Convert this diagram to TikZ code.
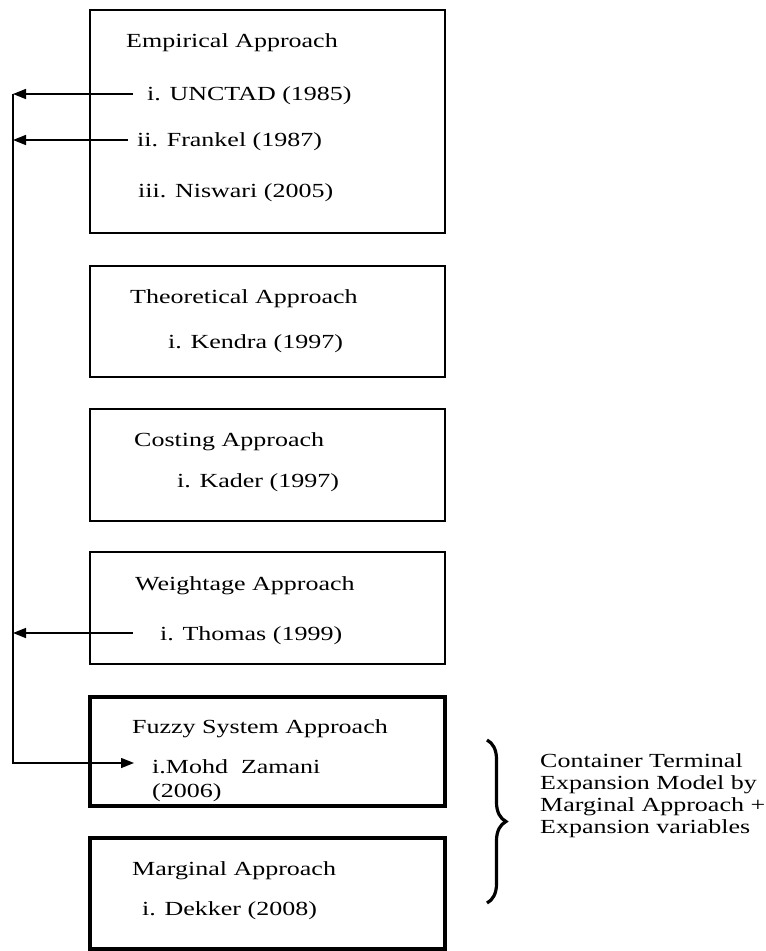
\documentclass[tikz,border=0pt]{standalone}
\usepackage{fontspec}
\setmainfont{Liberation Serif}
\usepackage{graphicx}
\usetikzlibrary{arrows.meta,decorations.pathreplacing}
\newcommand{\sx}[1]{\scalebox{1.3}[1]{#1}}
\begin{document}
\begin{tikzpicture}[x=1pt,y=-1pt,
  thinbox/.style={draw,line width=1.5pt,rectangle,inner sep=0pt,outer sep=0pt,minimum width=355pt,anchor=north west},
  thickbox/.style={thinbox,line width=4pt},
  lbl/.style={anchor=base west,inner sep=0pt,font=\fontsize{20}{22}\selectfont},
  conn/.style={line width=1.5pt},
  arr/.style={conn,-{Triangle[length=13pt,width=10pt]}},
  bracestyle/.style={line width=3.2pt,decorate,decoration={brace,amplitude=19pt}}
  ]
\useasboundingbox (0,0) rectangle (766,951);
% boxes
\node[thinbox,minimum height=223pt] (b1) at (90,10) {};
\node[thinbox,minimum height=111pt] (b2) at (90,266) {};
\node[thinbox,minimum height=112pt] (b3) at (90,409) {};
\node[thinbox,minimum height=112pt] (b4) at (90,552) {};
\node[thickbox,minimum height=109pt] (b5) at (90,697) {};
\node[thickbox,minimum height=111pt] (b6) at (90,838) {};
% texts
\node[lbl] (t1)  at (126,47)  {\sx{Empirical Approach}};
\node[lbl] (t1a) at (147,100) {\sx{i. UNCTAD (1985)}};
\node[lbl] (t1b) at (137,146) {\sx{ii. Frankel (1987)}};
\node[lbl] (t1c) at (138,197) {\sx{iii. Niswari (2005)}};
\node[lbl] (t2)  at (130,303) {\sx{Theoretical Approach}};
\node[lbl] (t2a) at (168,348) {\sx{i. Kendra (1997)}};
\node[lbl] (t3)  at (134,446) {\sx{Costing Approach}};
\node[lbl] (t3a) at (177,487) {\sx{i. Kader (1997)}};
\node[lbl] (t4)  at (135,590) {\sx{Weightage Approach}};
\node[lbl] (t4a) at (160,640) {\sx{i. Thomas (1999)}};
\node[lbl] (t5)  at (132,733) {\sx{Fuzzy System Approach}};
\node[lbl] (t5a) at (152,773) {\sx{i.Mohd\ \ Zamani}};
\node[lbl] (t5b) at (152,797) {\sx{(2006)}};
\node[lbl] (t6)  at (132,875) {\sx{Marginal Approach}};
\node[lbl] (t6a) at (142,915) {\sx{i. Dekker (2008)}};
\node[lbl] (ct) at (540,767) {\sx{\begin{tabular}[t]{@{}l@{}}Container Terminal\\Expansion Model by\\Marginal Approach +\\Expansion variables\end{tabular}}};
% connectors
\coordinate (s1) at (133,94);  \coordinate (e1) at (13,94);
\coordinate (s2) at (128,140); \coordinate (e2) at (13,140);
\coordinate (s4) at (133,633); \coordinate (e4) at (13,633);
\coordinate (vb) at (13,763);  \coordinate (s5) at (134,763);
\draw[arr] (s1) -- (e1);
\draw[arr] (s2) -- (e2);
\draw[arr] (s4) -- (e4);
\draw[arr] (e1) -- (vb) -- (s5);
% brace
\coordinate (br1) at (487,740); \coordinate (br2) at (487,903);
\draw[bracestyle] (br1) -- (br2);
\end{tikzpicture}
\end{document}
